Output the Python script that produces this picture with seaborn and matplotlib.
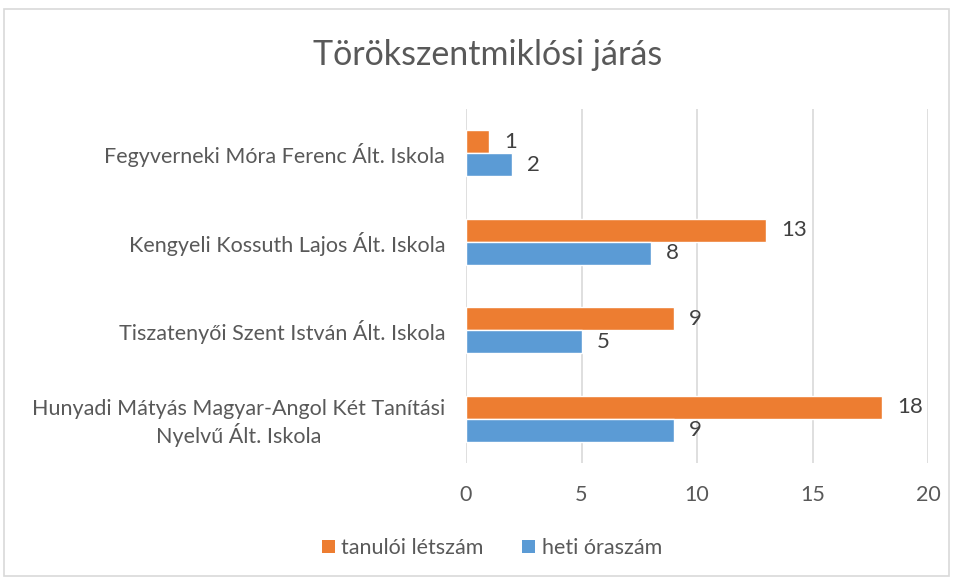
import matplotlib
matplotlib.use("Agg")
import matplotlib.pyplot as plt
from matplotlib.patches import Rectangle, Patch
import seaborn as sns
import pandas as pd

schools = [
    "Fegyverneki Móra Ferenc Ált. Iskola",
    "Kengyeli Kossuth Lajos Ált. Iskola",
    "Tiszatenyői Szent István Ált. Iskola",
    "Hunyadi Mátyás Magyar-Angol Két Tanítási\nNyelvű Ált. Iskola",
]
series_names = ["tanulói létszám", "heti óraszám"]
tanuloi = [1, 13, 9, 18]
heti = [2, 8, 5, 9]
xticks = [0, 5, 10, 15, 20]
title = "Törökszentmiklósi járás"
colors = ["#ED7D31", "#5B9BD5"]

df = pd.DataFrame({
    "iskola": schools * 2,
    "sorozat": [series_names[0]] * 4 + [series_names[1]] * 4,
    "ertek": tanuloi + heti,
})

sns.set_theme(style="white")
plt.rcParams["font.family"] = ["Lato", "DejaVu Sans"]
txt = "#595959"

fig = plt.figure(figsize=(9.55, 5.78), dpi=100)
ax = fig.add_axes([466 / 955, 1 - 463 / 578, (928 - 466) / 955, (463 - 109) / 578])

sns.barplot(data=df, y="iskola", x="ertek", hue="sorozat", hue_order=series_names,
            palette=colors, order=schools, orient="h", width=0.52, saturation=1,
            ax=ax, legend=False)

for cont in ax.containers:
    ax.bar_label(cont, padding=11, fontsize=16, color="#404040")

ax.set_xlim(0, 20)
ax.set_xticks(xticks)
ax.set_xticklabels([str(t) for t in xticks])
ax.set_xlabel("")
ax.set_ylabel("")
ax.grid(axis="x", color="#D9D9D9", linewidth=1.2)
ax.set_axisbelow(True)
for s in ax.spines.values():
    s.set_visible(False)
ax.tick_params(axis="x", length=0, pad=16, labelsize=15.5, labelcolor=txt)
ax.tick_params(axis="y", length=0, pad=15, labelsize=15.5, labelcolor=txt)
for lab in ax.get_yticklabels():
    lab.set_horizontalalignment("right")
    lab.set_multialignment("center")

fig.text(488 / 955, 1 - 55 / 578, title, ha="center", va="center", fontsize=24.5, color=txt)

handles = [Patch(facecolor=c, edgecolor="none") for c in colors]
fig.legend(handles, series_names, loc="center", bbox_to_anchor=(492 / 955, 1 - 548 / 578),
           ncol=2, frameon=False, fontsize=15.5, labelcolor=txt, handlelength=0.6,
           handleheight=0.6, handletextpad=0.3, columnspacing=1.8)

fig.patches.append(Rectangle((4 / 955, 0.003), 0.99, 1 - 9 / 578 - 0.003, transform=fig.transFigure,
                             fill=False, edgecolor="#D9D9D9", linewidth=1.2))

fig.savefig("out.png", dpi=100)
